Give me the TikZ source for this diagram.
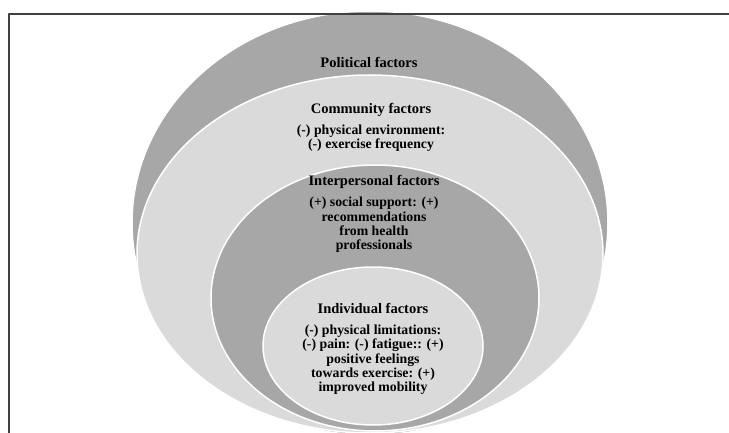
\documentclass[tikz,border=0pt]{standalone}
\usepackage{fontspec}
\setmainfont{Liberation Serif}
\definecolor{ringdark}{HTML}{A7A7A7}
\definecolor{ringlight}{HTML}{DADADA}
\definecolor{framegray}{HTML}{404040}
\begin{document}
\begin{tikzpicture}[x=1pt, y=-1pt, line join=round, line cap=round,
  ring/.style={fill=#1, draw=white, line width=1.5pt},
  head/.style={inner sep=0pt, font=\fontsize{14.5}{15}\selectfont\bfseries},
  body/.style={inner sep=0pt, align=center, font=\fontsize{13.8}{14.3}\selectfont\bfseries}]
\clip (0,0) rectangle (729,433);
\def\cx{371}
% nested rings, outermost first
\foreach \ex/\cy/\rx/\ry/\col in {370/223/238/212/ringdark, 370/254/233/179/ringlight, 375/298/164/133/ringdark, 373/346/110/79/ringlight}{
  \draw[ring=\col] (\ex,\cy) ellipse (\rx pt and \ry pt);}
% frame
\draw[line width=1.3pt, framegray] (729,14) -- (9,14) -- (9,433);
% labels
\node[head] (polit) at (369,62) {Political factors};
\node[head] (commun) at (\cx,110) {Community factors};
\node[body] (communtxt) at (\cx,138.5) {(-) physical environment:\\(-) exercise frequency};
\node[head] (interp) at (374,182) {Interpersonal factors};
\node[body] (interptxt) at (374,225) {(+) social support: (+)\\recommendations\\from health\\professionals};
\node[head] (indiv) at (373,308) {Individual factors};
\node[body] (indivtxt) at (373,360) {(-) physical limitations:\\(-) pain: (-) fatigue:: (+)\\positive feelings\\towards exercise: (+)\\improved mobility};
\end{tikzpicture}
\end{document}
